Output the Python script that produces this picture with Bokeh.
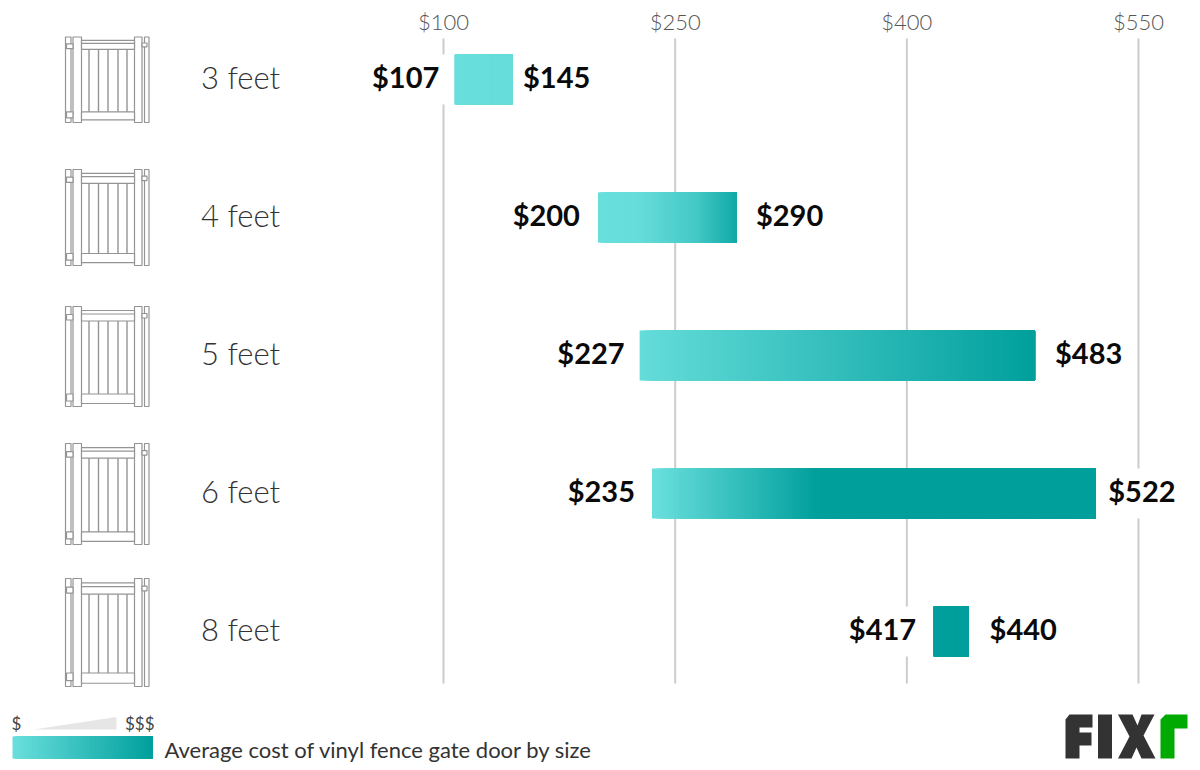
from bokeh.core.properties import value
from bokeh.embed import file_html
from bokeh.models import FixedTicker, NumeralTickFormatter, Range1d
from bokeh.plotting import figure
from bokeh.resources import INLINE
import numpy

sizes = ["3 feet", "4 feet", "5 feet", "6 feet", "8 feet"]
low_cost = [107, 200, 227, 235, 417]
high_cost = [145, 290, 483, 522, 440]
cost_ticks = [100, 250, 400, 550]

# how far along the light-to-dark ramp each bar goes, left to right
ramp_pos = [[0, 1], [0, 0.3, 0.7, 1], [0, 1], [0, 0.37, 1], [0, 1]]
ramp_amt = [[0, 0.04], [0, 0.04, 0.35, 0.85], [0.05, 1], [0, 1, 1], [1, 1]]

gate_top = [36.5, 169, 306, 443, 578]
gate_bottom = [122, 265, 406, 544, 686]

LIGHT = numpy.array([105, 223, 221])
DARK = numpy.array([0, 159, 156])
GRID = "#cccccc"
GATE = "#949494"
INK = "#444444"

# the frame runs from y=34 to the bottom, the axis sits in the strip above it
WIDTH, HEIGHT = 1200, 770
FRAME_TOP = 34
PX_PER_USD = (1138 - 443) / 450
ROW_Y = 79
ROW_STEP = 138
BAR_HEIGHT = 50 / ROW_STEP
HALO = 90 / PX_PER_USD


def ramp_color(t):
    r, g, b = (LIGHT + (DARK - LIGHT) * t).round().astype(int)
    return f"#{r:02x}{g:02x}{b:02x}"


fig = figure(width=WIDTH, height=HEIGHT, output_backend="svg", toolbar_location=None,
             x_axis_location="above", y_axis_type=None, min_border=0,
             min_border_top=FRAME_TOP, outline_line_color=None,
             x_range=Range1d(100 - 443 / PX_PER_USD, 100 + (WIDTH - 443) / PX_PER_USD),
             y_range=Range1d((HEIGHT - ROW_Y) / ROW_STEP, (FRAME_TOP - ROW_Y) / ROW_STEP))
fig.grid.visible = False
fig.extra_x_ranges["px"] = Range1d(0, WIDTH)
fig.extra_y_ranges["px"] = Range1d(HEIGHT, FRAME_TOP)
px = dict(x_range_name="px", y_range_name="px")

rows = list(range(len(sizes)))

axis = fig.xaxis[0]
axis.ticker = FixedTicker(ticks=cost_ticks)
axis.formatter = NumeralTickFormatter(format="$0,0")
axis.axis_line_color = None
axis.major_tick_line_color = None
axis.minor_tick_line_color = None
axis.major_tick_out = 0
axis.major_tick_in = 0
axis.major_label_text_font = "Lato Light"
axis.major_label_text_font_size = "22px"
axis.major_label_text_color = "#555555"
axis.major_label_standoff = 0

# grid lines stop short of the legend, so they are plain segments
fig.segment(cost_ticks, [(38 - ROW_Y) / ROW_STEP] * 4, cost_ticks, [(683 - ROW_Y) / ROW_STEP] * 4,
            line_color=GRID, line_width=2)

# white band behind each bar and its labels cuts the grid lines
fig.hbar(rows, BAR_HEIGHT, [v - HALO for v in low_cost], [v + HALO for v in high_cost],
         fill_color="white", line_color=None)

# gradient bars: slices overlap to the bar end so no seams show
for row, (low, high) in enumerate(zip(low_cost, high_cost)):
    steps = numpy.linspace(0, 1, 120, endpoint=False)
    amounts = numpy.interp(steps, ramp_pos[row], ramp_amt[row])
    fig.hbar([row] * len(steps), BAR_HEIGHT, low + (high - low) * steps, high,
             fill_color=[ramp_color(t) for t in amounts], line_color=None)

low_gap = [-15, -18, -15, -17, -17]
high_gap = [10, 19, 20, 13, 21]
value_font = dict(text_font=value("Lato"), text_font_style="bold", text_font_size="29px",
                  text_color="#0a0a0a", text_baseline="middle", y_offset=-3)
fig.text(low_cost, rows, text=[f"${v}" for v in low_cost], x_offset=low_gap,
         text_align="right", **value_font)
fig.text(high_cost, rows, text=[f"${v}" for v in high_cost], x_offset=high_gap,
         text_align="left", **value_font)

fig.text([200.5] * 5, [ROW_Y + ROW_STEP * r - 3 for r in rows], text=sizes, text_font=value("Lato Light"),
         text_font_size="31px", text_color="#333333", text_baseline="middle", **px)

# gate icons, x in page pixels, y as a share of each icon's height
posts = [(65, 70.5), (72.5, 81), (134, 141.5), (144, 148.5)]
slats = [88.5, 98, 107.5, 117.5, 126.5]
for top, bottom in zip(gate_top, gate_bottom):
    h = bottom - top
    ys = lambda f: top + f * h
    x0, x1, y0, y1 = [], [], [], []
    for left, right in posts:
        x0.append(left), x1.append(right), y0.append(top), y1.append(bottom)
    # rails
    x0 += [81, 81]
    x1 += [134, 134]
    y0 += [ys(0.04), ys(0.875)]
    y1 += [ys(0.145), ys(0.97)]
    # hinges and latch
    x0 += [66, 66, 141.5]
    x1 += [72.5, 72.5, 146.5]
    y0 += [ys(0.08), ys(0.875), ys(0.07)]
    y1 += [ys(0.135), ys(0.945), ys(0.115)]
    fig.quad(left=x0, right=x1, top=y0, bottom=y1, fill_color="white",
             line_color=GATE, line_width=1.2, **px)
    # top rail inner line and the slats
    fig.segment([81], [ys(0.075)], [134], [ys(0.075)], line_color=GATE, line_width=1.2, **px)
    fig.segment(slats, [ys(0.145)] * 5, slats, [ys(0.875)] * 5, line_color=GATE, line_width=1.4, **px)

# legend
fig.patch([33, 116, 116], [729, 716.5, 729], fill_color="#e6e6e6", line_color=None, **px)
legend_steps = numpy.linspace(12, 152, 120, endpoint=False)
fig.quad(left=legend_steps, right=152, top=736, bottom=758,
         fill_color=[ramp_color((v - 12) / 140) for v in legend_steps], line_color=None, **px)
fig.text([11], [723], text=["$"], text_font=value("Lato"), text_font_size="17px", text_color=INK,
         text_baseline="middle", **px)
fig.text([154], [723], text=["$$$"], text_font=value("Lato"), text_font_size="17px", text_color=INK,
         text_align="right", text_baseline="middle", **px)
fig.text([164], [749], text=["Average cost of vinyl fence gate door by size"], text_font=value("Lato"),
         text_font_size="22px", text_color="#333333", text_baseline="middle", **px)

# logo
logo_f = ([1065, 1065, 1069, 1092, 1092, 1079, 1079, 1091, 1091, 1079, 1079, 1065],
          [758, 719, 714, 714, 727, 727, 732, 732, 745, 745, 758, 758])
logo_i = ([1097.5, 1111.5, 1111.5, 1097.5], [714, 714, 758, 758])
logo_x = ([1117.5, 1132, 1137, 1141, 1154, 1143, 1155, 1141, 1136, 1131, 1117.5, 1129],
          [714, 714, 725, 714, 714, 735, 758, 758, 747, 758, 758, 736])
logo_r = ([1160, 1160, 1165, 1187, 1187, 1174, 1174, 1160],
          [758, 719, 714, 714, 728, 728, 758, 758])
fig.patches([logo_f[0], logo_i[0], logo_x[0]], [logo_f[1], logo_i[1], logo_x[1]],
            fill_color="#333333", line_color=None, **px)
fig.patch(logo_r[0], logo_r[1], fill_color="#00aa00", line_color=None, **px)

open("out.html", "w").write(file_html(fig, INLINE))
